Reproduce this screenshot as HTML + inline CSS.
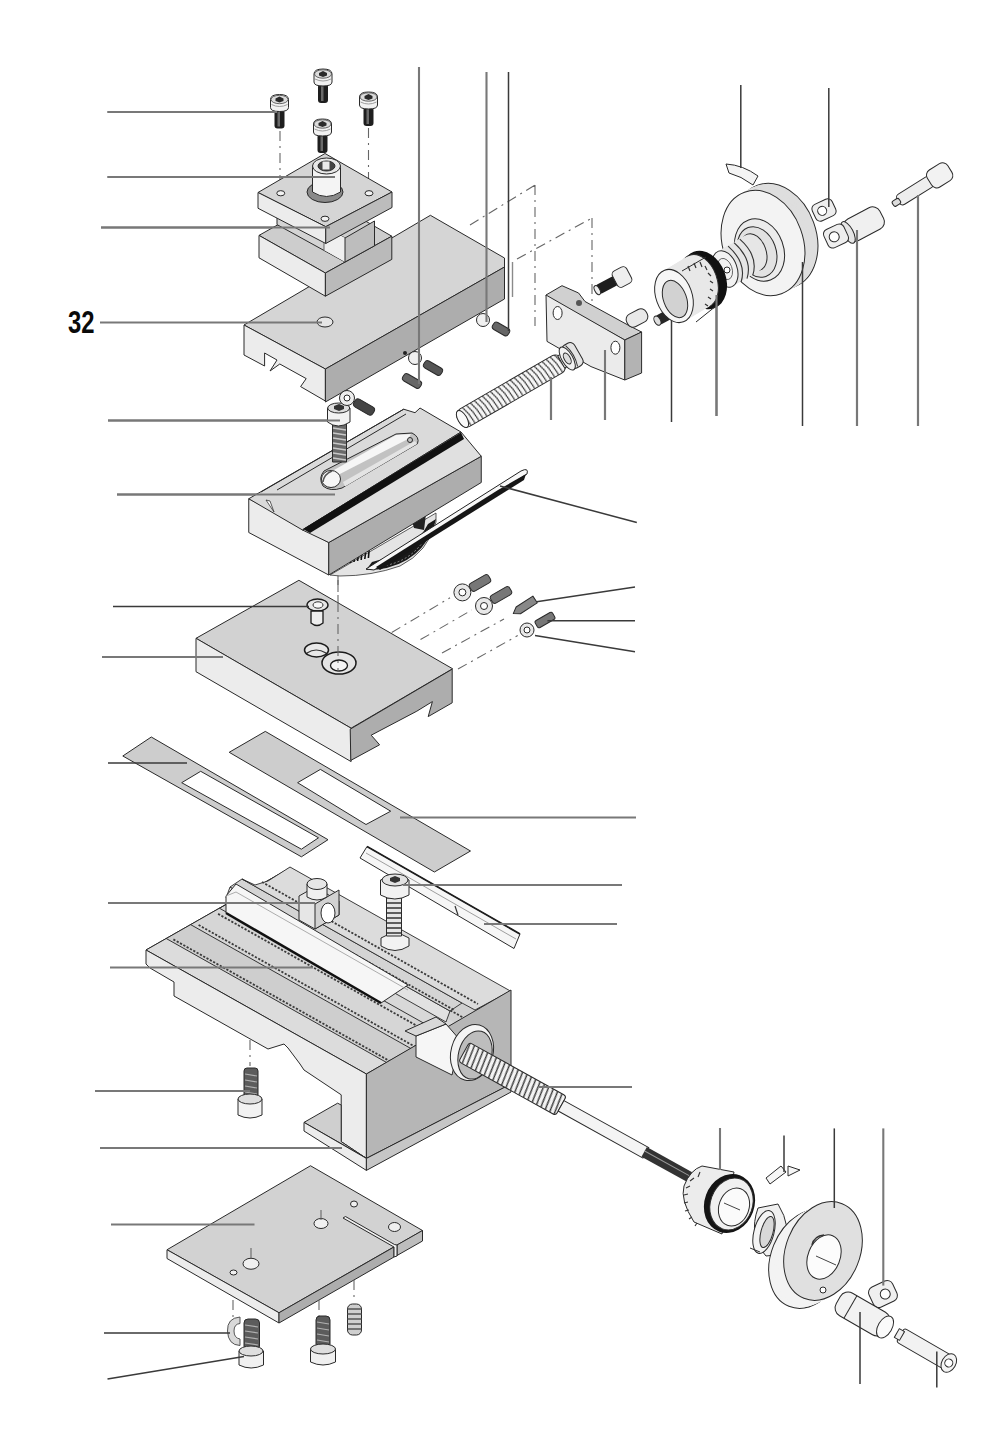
<!DOCTYPE html>
<html><head><meta charset="utf-8">
<style>
html,body{margin:0;padding:0;background:#fff;}
body{width:1000px;height:1444px;overflow:hidden;}
svg{display:block;}
.e{stroke:#2a2a2a;stroke-width:1;stroke-linejoin:round;}
.L{stroke:#787878;stroke-width:2.1;fill:none;}
.Ld{stroke:#3a3a3a;stroke-width:1.5;fill:none;}
.d{stroke:#666;stroke-width:1.1;fill:none;stroke-dasharray:10 5 2 5;}
.t{fill:#d5d5d5;}
.lf{fill:#ececec;}
.rf{fill:#adadad;}
</style></head><body>
<svg width="1000" height="1444" viewBox="0 0 1000 1444">
<defs>
 <g id="cs">
  <rect x="4" y="15" width="10" height="19" rx="3" fill="#1e1e1e"/>
  <rect x="7" y="17" width="2.5" height="15" fill="#6a6a6a"/>
  <path d="M0,5 Q0,0 9,0 Q18,0 18,5 L18,13 Q18,17 9,17 Q0,17 0,13 Z" fill="#f2f2f2" class="e"/>
  <ellipse cx="9" cy="5" rx="8.5" ry="4.2" fill="#dcdcdc" stroke="#444" stroke-width="0.8"/>
  <path d="M5,4 L9,2 L13,4 L13,6.5 L9,8 L5,6.5Z" fill="#2a2a2a"/>
  <path d="M1,10 Q9,14 17,10" stroke="#888" stroke-width="0.8" fill="none"/>
 </g>
 <pattern id="coil" width="4.6" height="20" patternUnits="userSpaceOnUse" x="0" y="-10">
  <rect width="4.6" height="20" fill="#f6f6f6"/>
  <path d="M0.5,0 Q4,10 3.5,20" stroke="#333" stroke-width="1.1" fill="none"/>
 </pattern>
<pattern id="coil2" width="5" height="22" patternUnits="userSpaceOnUse" y="-11">
  <rect width="5" height="22" fill="#f4f4f4"/>
  <path d="M1,0 L4,22" stroke="#333" stroke-width="1.4"/>
 </pattern>
</defs>
<g id="top">
<!-- leaders -->
<path class="L" d="M107.5,112H277 M107.5,177H335 M101,227.5H330"/>
<text x="68" y="332.5" font-family="Liberation Sans" font-weight="bold" font-size="30.5" fill="#0a0a0a" textLength="26.5" lengthAdjust="spacingAndGlyphs">32</text>
<path class="L" d="M551,377V420 M605,350V420 M857,230V426 M918,195V426 M716.5,295V416"/>
<path class="Ld" d="M671.5,300V422"/>
<!-- dash-dot lines -->
<path class="d" d="M280,131V192 M368.5,128V192 M470,225L535,185 M535,185V326 M517,259L592,218 M592,218V342 M325,296V318"/>

<!-- top slide block -->
<polygon class="e t" points="244,325 430.4,215.3 504.5,258 504.5,267 325.4,369"/>
<polygon class="e lf" points="244,325 325.4,369 325.4,401 300.6,386.6 306.2,378.6 279.8,364 270,371 277,360 264.6,353 264.6,366 244,355"/>
<polygon class="e rf" points="325.4,369 504.5,267 504.5,299 325.4,402"/>
<ellipse cx="325" cy="322" rx="8" ry="5" fill="#e6e6e6" class="e"/>
<path class="L" d="M100,322.5H322"/>
<!-- small pins on top slide -->
<g transform="translate(412,381) rotate(30)"><rect x="-10" y="-4" width="20" height="8" rx="3" fill="#666" class="e"/></g>
<g transform="translate(433,368) rotate(30)"><rect x="-10" y="-4" width="20" height="8" rx="3" fill="#555" class="e"/></g>
<circle cx="415" cy="358" r="6.5" fill="#f0f0f0" class="e"/>
<circle cx="405" cy="353" r="2" fill="#222"/>
<g transform="translate(501,329) rotate(30)"><rect x="-9" y="-4" width="18" height="8" rx="3" fill="#666" class="e"/></g>
<circle cx="483" cy="320" r="6.5" fill="#f0f0f0" class="e"/>
<path class="L" d="M419,67V384 M486.5,72V322"/>
<path class="Ld" d="M508.5,72V331"/>
<path d="M512.5,262V297" stroke="#8a8a8a" stroke-width="1.4"/>

<!-- tool post lower block -->
<polygon class="e" fill="#cdcdcd" points="259,235.4 325.4,198 391.8,236.2 325.4,273"/>
<polygon class="e lf" points="259,235.4 325.4,273 325.4,296.2 259,257.8"/>
<polygon class="e" fill="#bababa" points="325.4,273 391.8,236.2 391.8,259.4 325.4,296.2"/>
<!-- neck -->
<polygon class="e" fill="#d4d4d4" points="277,200 345,238 345,262 277,224.6"/>
<polygon fill="#efefef" points="324,226 345,238 345,262 324,250"/>
<path d="M324,226V250" stroke="#444" stroke-width="0.8"/>
<polygon class="e" fill="#bdbdbd" points="345,238 374.5,221 374.5,245.8 345,262"/>
<!-- flange plate -->
<polygon class="e t" points="258,192.5 325,153.5 392,192 325.75,226.7"/>
<polygon class="e lf" points="258,192.5 325.75,226.7 325.75,243.5 258,208.25"/>
<polygon class="e" fill="#bcbcbc" points="325.75,226.7 392,192 392,207.5 325.75,243.5"/>
<ellipse cx="280.75" cy="193.25" rx="4" ry="2.6" fill="#f2f2f2" class="e"/>
<ellipse cx="369" cy="193.25" rx="4" ry="2.6" fill="#f2f2f2" class="e"/>
<ellipse cx="325" cy="218.75" rx="4" ry="2.6" fill="#f2f2f2" class="e"/>
<!-- boss -->
<ellipse cx="325" cy="192" rx="18" ry="10.5" fill="#8a8a8a" class="e"/>
<path class="e" fill="#f4f4f4" d="M312.5,166 L312.5,192 Q326.5,201 340.5,192 L340.5,166 Z"/>
<ellipse cx="326.5" cy="166" rx="14" ry="8" fill="#e8e8e8" class="e"/>
<ellipse cx="326.5" cy="166" rx="8.5" ry="5" fill="#444" class="e"/>
<rect x="322.5" y="161.5" width="7" height="8" fill="#eaeaea"/>
<path class="L" d="M107.5,177H335 M101,227.5H330"/>
<!-- cap screws -->
<use href="#cs" x="270.5" y="94.5"/>
<use href="#cs" x="314" y="69"/>
<use href="#cs" x="359.5" y="92"/>
<use href="#cs" x="313.5" y="119"/>
<path class="L" d="M107.5,112H277"/>

<!-- bracket -->
<polygon class="e" fill="#d0d0d0" points="546,295 562,285.7 578.6,293 585,301.5 629,325.6 641.6,332 624.8,340 547,297"/>
<polygon class="e" fill="#ebebeb" points="546,295 624.8,340 624.8,380 591,366.6 547,341.4"/>
<polygon class="e" fill="#b3b3b3" points="624.8,340 641.6,332 641.6,373 624.8,380"/>
<ellipse cx="557.6" cy="313" rx="4.5" ry="6.5" fill="#fff" class="e"/>
<ellipse cx="615.4" cy="347.7" rx="4.5" ry="6.5" fill="#fff" class="e"/>
<circle cx="579" cy="303" r="3" fill="#555"/>
<!-- upper leadscrew spring -->
<g transform="translate(459,421) rotate(-30)">
 <rect x="0" y="-10" width="120" height="20" rx="7" fill="url(#coil)" class="e"/>
 <ellipse cx="4" cy="0" rx="4.5" ry="9.5" fill="#fafafa" class="e"/>
 <rect x="118" y="-7" width="10" height="14" fill="#e8e8e8" class="e"/>
 <rect x="124" y="-13" width="14" height="26" rx="5" fill="#e4e4e4" class="e"/>
 <path d="M130,-12 Q134,0 130,12" stroke="#333" fill="none"/>
 <ellipse cx="125" cy="0" rx="5.5" ry="13" fill="#f2f2f2" class="e"/>
 <ellipse cx="125" cy="0" rx="3" ry="6" fill="#ddd" class="e"/>
</g>
<path class="L" d="M551,377V420 M605,350V420"/>
<!-- lying cap screw -->
<g transform="translate(622,277) rotate(-28)">
 <rect x="-28" y="-5" width="22" height="10" rx="3" fill="#1e1e1e"/>
 <ellipse cx="-28" cy="0" rx="2.5" ry="5" fill="#eee" class="e"/>
 <rect x="-8" y="-9" width="16" height="18" rx="4" fill="#eee" class="e"/>
</g>
<!-- small pin + grub -->
<g transform="translate(637,318) rotate(-28)"><rect x="-11" y="-7" width="22" height="14" rx="6" fill="#e8e8e8" class="e"/></g>
<g transform="translate(668,315) rotate(-28)"><rect x="-13" y="-5" width="26" height="10" rx="4" fill="#262626"/><ellipse cx="-12" cy="0" rx="3" ry="5" fill="#ddd" class="e"/></g>

<!-- handwheel upper -->
<ellipse cx="776" cy="236" rx="40" ry="54" transform="rotate(-20 776 236)" fill="#dedede" class="e"/>
<ellipse cx="774.7" cy="236.7" rx="40" ry="54" transform="rotate(-20 774.7 236.7)" fill="#dedede"/>
<ellipse cx="773.4" cy="237.4" rx="40" ry="54" transform="rotate(-20 773.4 237.4)" fill="#dedede"/>
<ellipse cx="772.1" cy="238.1" rx="40" ry="54" transform="rotate(-20 772.1 238.1)" fill="#dedede"/>
<ellipse cx="770.8" cy="238.8" rx="40" ry="54" transform="rotate(-20 770.8 238.8)" fill="#dedede"/>
<ellipse cx="769.5" cy="239.5" rx="40" ry="54" transform="rotate(-20 769.5 239.5)" fill="#dedede"/>
<ellipse cx="768.2" cy="240.2" rx="40" ry="54" transform="rotate(-20 768.2 240.2)" fill="#dedede"/>
<ellipse cx="766.9" cy="240.9" rx="40" ry="54" transform="rotate(-20 766.9 240.9)" fill="#dedede"/>
<ellipse cx="765.6" cy="241.6" rx="40" ry="54" transform="rotate(-20 765.6 241.6)" fill="#dedede"/>
<ellipse cx="764.3" cy="242.3" rx="40" ry="54" transform="rotate(-20 764.3 242.3)" fill="#dedede"/>
<ellipse cx="763" cy="243" rx="40" ry="54" transform="rotate(-20 763 243)" fill="#f3f3f3" class="e"/>
<ellipse cx="759.5" cy="250" rx="24" ry="32" transform="rotate(-20 759.5 250)" fill="#ececec" class="e"/>
<ellipse cx="757" cy="252" rx="19" ry="26" transform="rotate(-20 757 252)" fill="#e2e2e2" class="e"/>
<!-- hub -->
<ellipse cx="754" cy="252" rx="12" ry="19" transform="rotate(-20 754 252)" fill="#e6e6e6" class="e"/>
<ellipse cx="751.1" cy="253.7" rx="12" ry="19" transform="rotate(-20 751.1 253.7)" fill="#e6e6e6"/>
<ellipse cx="748.2" cy="255.4" rx="12" ry="19" transform="rotate(-20 748.2 255.4)" fill="#e6e6e6"/>
<ellipse cx="745.3" cy="257.1" rx="12" ry="19" transform="rotate(-20 745.3 257.1)" fill="#e6e6e6"/>
<ellipse cx="742.4" cy="258.8" rx="12" ry="19" transform="rotate(-20 742.4 258.8)" fill="#e6e6e6"/>
<ellipse cx="739.5" cy="260.5" rx="12" ry="19" transform="rotate(-20 739.5 260.5)" fill="#e6e6e6"/>
<ellipse cx="736.6" cy="262.2" rx="12" ry="19" transform="rotate(-20 736.6 262.2)" fill="#e6e6e6"/>
<ellipse cx="733.7" cy="263.9" rx="12" ry="19" transform="rotate(-20 733.7 263.9)" fill="#e6e6e6"/>
<ellipse cx="730.8" cy="265.6" rx="12" ry="19" transform="rotate(-20 730.8 265.6)" fill="#e6e6e6"/>
<ellipse cx="727.9" cy="267.3" rx="12" ry="19" transform="rotate(-20 727.9 267.3)" fill="#e6e6e6"/>
<ellipse cx="725" cy="269" rx="12" ry="19" transform="rotate(-20 725 269)" fill="#f2f2f2" class="e"/>
<path d="M739.8,239.2 Q758.8,256.2 752.8,275.2" stroke="#333" stroke-width="1.1" fill="none"/>
<path d="M734.0,242.6 Q753.0,259.6 747.0,278.6" stroke="#333" stroke-width="1.1" fill="none"/>
<path d="M728.1,246.1 Q747.1,263.1 741.1,282.1" stroke="#333" stroke-width="1.1" fill="none"/>
<ellipse cx="725" cy="269" rx="7" ry="11" transform="rotate(-20 725 269)" fill="none" stroke="#555" stroke-width="0.8"/>
<circle cx="727" cy="270" r="3" fill="#fff" class="e"/>
<path class="Ld" d="M802.5,262V426"/>
<!-- dial upper -->
<ellipse cx="704" cy="280" rx="22" ry="30" transform="rotate(-20 704 280)" fill="#111"/>
<ellipse cx="699" cy="281" rx="18" ry="27.5" transform="rotate(-20 699 281)" fill="#e8e8e8" class="e"/>
<ellipse cx="696.5" cy="282.5" rx="18" ry="27.5" transform="rotate(-20 696.5 282.5)" fill="#e8e8e8"/>
<ellipse cx="694.0" cy="284.0" rx="18" ry="27.5" transform="rotate(-20 694.0 284.0)" fill="#e8e8e8"/>
<ellipse cx="691.5" cy="285.5" rx="18" ry="27.5" transform="rotate(-20 691.5 285.5)" fill="#e8e8e8"/>
<ellipse cx="689.0" cy="287.0" rx="18" ry="27.5" transform="rotate(-20 689.0 287.0)" fill="#e8e8e8"/>
<ellipse cx="686.5" cy="288.5" rx="18" ry="27.5" transform="rotate(-20 686.5 288.5)" fill="#e8e8e8"/>
<ellipse cx="684.0" cy="290.0" rx="18" ry="27.5" transform="rotate(-20 684.0 290.0)" fill="#e8e8e8"/>
<ellipse cx="681.5" cy="291.5" rx="18" ry="27.5" transform="rotate(-20 681.5 291.5)" fill="#e8e8e8"/>
<ellipse cx="679.0" cy="293.0" rx="18" ry="27.5" transform="rotate(-20 679.0 293.0)" fill="#e8e8e8"/>
<ellipse cx="676.5" cy="294.5" rx="18" ry="27.5" transform="rotate(-20 676.5 294.5)" fill="#e8e8e8"/>
<path d="M682,271 L706,257 M696,322 L716,306" stroke="#2a2a2a" stroke-width="1" fill="none"/>
<path stroke="#333" stroke-width="1.2" d="M688,266l2,5 M694,263l2,5 M700,262l2,5 M705,266l2,4 M708,273l3,3 M710,281l3,2 M710,289l3,2 M708,297l3,2 M705,304l3,2"/>
<ellipse cx="674" cy="296" rx="18" ry="27.5" transform="rotate(-20 674 296)" fill="#f6f6f6" class="e"/>
<ellipse cx="675" cy="299" rx="11.5" ry="19.5" transform="rotate(-20 675 299)" fill="#d2d2d2" class="e"/>
<path class="L" d="M716.5,295V416"/>
<!-- arc marker top -->
<path class="e" fill="#f4f4f4" d="M726,164 Q743,165 758,176 L753,185 Q741,176 729,173 Z"/>
<path class="Ld" d="M740.8,85V168"/>
<!-- nuts, sleeve, pin -->
<g transform="translate(824,210) rotate(-25)"><rect x="-11" y="-9" width="22" height="18" rx="5" fill="#eee" class="e"/><circle cx="-2" cy="0" r="4.5" fill="#fff" class="e"/></g>
<g transform="translate(864,224) rotate(-28)"><rect x="-20" y="-12" width="40" height="24" rx="8" fill="#f0f0f0" class="e"/><ellipse cx="-18" cy="0" rx="5" ry="12" fill="#e6e6e6" class="e"/></g>
<g transform="translate(836,236) rotate(-25)"><rect x="-11" y="-10" width="22" height="20" rx="5" fill="#eee" class="e"/><circle cx="-2" cy="0" r="5" fill="#fff" class="e"/></g>
<g transform="translate(921,187) rotate(-32)">
 <rect x="-27" y="-6" width="40" height="12" rx="4" fill="#eee" class="e"/>
 <rect x="10" y="-10" width="24" height="20" rx="6" fill="#f2f2f2" class="e"/>
 <rect x="-33" y="-3" width="8" height="6" rx="2" fill="#ddd" class="e"/>
</g>
<path class="Ld" d="M828.8,88V207"/>
<path class="L" d="M857,230V426 M918,195V426"/>
</g>
<g id="mid">
<!-- leaders -->
<path class="L" d="M108,420.5H340 M117,494.5H335"/>
<path class="d" d="M338,575V670 M317,628V648"/>
<!-- swivel ring under compound slide -->
<path d="M330,575 L436,513 L436,522 Q428,552 400,566 Q372,576 340,576Z" fill="#e4e4e4" stroke="#333" stroke-width="0.8"/>
<path d="M366,570 Q414,570 433,530 L436,519 L428,524 Q414,552 372,562Z" fill="#1a1a1a"/>
<path d="M382,566 Q410,562 424,540" stroke="#aaa" stroke-width="0.8" stroke-dasharray="2 2" fill="none"/>
<path stroke="#111" stroke-width="1.6" d="M336.0,567.0l0.8,-6 M339.6,566.0l0.8,-9 M343.2,565.0l0.8,-6 M346.8,564.0l0.8,-9 M350.4,563.0l0.8,-6 M354.0,562.0l0.8,-9 M357.6,561.0l0.8,-6 M361.2,560.0l0.8,-9 M364.8,559.0l0.8,-6 M368.4,558.0l0.8,-9"/>
<path d="M412,521 L426,514 L424,530 L414,528Z" fill="#222"/>
<!-- compound slide -->
<polygon class="e lf" points="248.75,498.75 265,507 270,500 274,512 302.5,528 328.75,542.5 328.75,575 248.75,532.5"/>
<polygon class="e rf" points="328.75,542.5 481.25,456.25 481.25,482.5 328.75,575"/>
<!-- top faces -->
<polygon class="e" fill="#dadada" points="248.75,498.75 403.7,409.2 415,412.7 420,408 461,432 307,527 302.5,530"/>
<polygon class="e" fill="#e0e0e0" points="302.5,530 461,432 481.25,456.25 328.75,542.5"/>
<path d="M303,529 L461,432.5 L464,439 L310,533Z" fill="#111"/>
<path stroke="#2a2a2a" stroke-width="1" fill="none" d="M261,492 L403.7,409.2 M277,490 L406,414"/>
<path d="M266,500 L274,512 L270,501Z" fill="#fff" stroke="#333" stroke-width="0.8"/>
<!-- slot -->
<path class="e" fill="#c2c2c2" d="M324,471 Q318,478 323,486 Q330,492 342,488 L417.5,443.7 Q420,437 412,433 L396,434 Z"/>
<path fill="#f6f6f6" d="M334,470 L396,435 L411,434 L408,439 L336,476 Z"/>
<path fill="#e4e4e4" d="M345,486.5 L417,444 L415,441 L343,482Z"/>
<ellipse cx="331" cy="479" rx="9.5" ry="8.5" fill="#f6f6f6" class="e"/>
<path d="M323,482 Q324,474 332,471" stroke="#555" stroke-width="1.5" fill="none"/>
<circle cx="410" cy="440" r="2.5" fill="none" class="e"/>
<!-- threaded screw -->
<rect x="332.5" y="424" width="14" height="38" fill="#6a6a6a" class="e"/>
<path stroke="#c8c8c8" stroke-width="1.3" d="M333,428l13,2 M333,433l13,2 M333,438l13,2 M333,443l13,2 M333,448l13,2 M333,453l13,2 M333,458l13,2"/>
<path d="M327.5,408 Q338,402 350,408 L350,422 Q338,430 327.5,422Z" fill="#f2f2f2" class="e"/>
<ellipse cx="338.7" cy="408" rx="11" ry="5" fill="#ddd" class="e"/>
<path d="M334,406 L339,404 L344,406 L344,409 L339,411 L334,409Z" fill="#333"/>
<circle cx="347" cy="398" r="7.5" fill="#eee" class="e"/>
<circle cx="347" cy="398" r="3" fill="#fff" class="e"/>
<g transform="translate(364,407) rotate(30)"><rect x="-11" y="-4.5" width="22" height="9" rx="3.5" fill="#444" class="e"/></g>
<path class="L" d="M108,420.5H340 M117,494.5H335"/>
<!-- gib strip -->
<path d="M366,569 L521,471 Q529,467 527,474 L374,570 Z" fill="#f8f8f8" stroke="#222" stroke-width="1"/>
<path d="M376,567 L498,490 L526,474 L524,480 L380,570Z" fill="#161616"/>
<path class="Ld" d="M500,486 L636.8,522.5"/>
<!-- swivel plate -->
<polygon class="e" fill="#d2d2d2" points="196,638.3 298.9,580.3 452.6,668.75 351.1,728.2"/>
<polygon class="e lf" points="196,638.3 351.1,728.2 351.1,761.6 196,671.7"/>
<polygon class="e rf" points="350.2,729.2 452.2,669.2 452.2,702.8 428.2,716.6 432.4,701.6 416.8,711.2 371.2,735.2 379.6,744.8 350.8,760.4"/>
<ellipse cx="317.5" cy="605" rx="10.5" ry="6" fill="#e6e6e6" stroke="#1a1a1a" stroke-width="1.4"/>
<ellipse cx="318" cy="605" rx="5" ry="3.2" fill="#f8f8f8" stroke="#333" stroke-width="1"/>
<path fill="#eee" stroke="#1a1a1a" stroke-width="1.3" d="M311,611 L311,623 Q317,628 323,623 L323,611 Z"/>
<ellipse cx="316.5" cy="650" rx="12" ry="7" fill="#e8e8e8" stroke="#1a1a1a" stroke-width="1.5"/>
<path d="M307,653 Q316,647 326,653" stroke="#333" stroke-width="1.2" fill="none"/>
<ellipse cx="339" cy="663" rx="17" ry="11" fill="#e4e4e4" stroke="#1a1a1a" stroke-width="1.5"/>
<ellipse cx="339" cy="665.5" rx="8.5" ry="5.5" fill="#f4f4f4" stroke="#1a1a1a" stroke-width="1.3"/>
<path class="d" d="M338,580V672"/>
<path class="Ld" d="M113,606.4H309"/>
<path class="L" d="M102,657H223"/>
<!-- dashed leader lines to small screws -->
<path class="d" d="M391.7,632.5L450,597.8 M420.5,639.6L471.8,610 M442,653L504,619 M458,669L517.7,635.6"/>
<!-- small screws -->
<circle cx="462.4" cy="592.4" r="8.5" fill="#e8e8e8" class="e"/>
<circle cx="462.4" cy="592.4" r="3.5" fill="#fff" class="e"/>
<g transform="translate(480,583) rotate(-30)"><rect x="-11" y="-4.5" width="22" height="9" rx="3" fill="#777" class="e"/></g>
<circle cx="484" cy="606" r="8.5" fill="#e8e8e8" class="e"/>
<circle cx="484" cy="606" r="3.5" fill="#fff" class="e"/>
<g transform="translate(501,595) rotate(-30)"><rect x="-11" y="-4.5" width="22" height="9" rx="3" fill="#777" class="e"/></g>
<g transform="translate(525,606) rotate(-33)"><path d="M-14,0 L-8,-4 L12,-4 L12,4 L-8,4Z" fill="#888" class="e"/></g>
<circle cx="527" cy="630" r="7" fill="#e8e8e8" class="e"/>
<circle cx="527" cy="630" r="3" fill="#fff" class="e"/>
<g transform="translate(545,620) rotate(-30)"><rect x="-10" y="-4" width="20" height="8" rx="2" fill="#777" class="e"/></g>
<path class="Ld" d="M536.6,601.8L635,587 M547.4,620.75H635 M535,635.6L635,651.8"/>
<!-- gibs -->
<polygon class="e" fill="#cdcdcd" points="122.8,756 151.3,737 328,839.7 301.4,856.8"/>
<polygon class="e" fill="#fff" points="181.7,782.7 200.7,771.3 318.5,837.8 301.4,849.2"/>
<path class="Ld" d="M108,763H187"/>
<polygon class="e" fill="#cdcdcd" points="229.2,752.3 265.3,731.4 470.5,851 434.4,872"/>
<polygon class="e" fill="#fff" points="297.6,782.7 320.4,769.4 390.7,811.2 366,824.5"/>
<path class="L" d="M400,817.5H636"/>
</g>
<g id="low">
<!-- rod / gib bar -->
<polygon fill="#f6f6f6" stroke="#2a2a2a" stroke-width="1" points="360,858 367,846.5 520,934 514,948.5"/>
<path d="M367,846.5 L520,934" stroke="#1e1e1e" stroke-width="1.8" fill="none"/>
<path d="M366,853 L516,939" stroke="#888" stroke-width="0.8" fill="none"/>
<path d="M455,906 L458,915" stroke="#333" stroke-width="1.2" fill="none"/>
<!-- cross slide base -->
<polygon class="e" fill="#d8d8d8" points="146,950 290,868 510.4,992 366.4,1074"/>
<polygon fill="#dcdcdc" points="146.0,950.0 166.2,938.5 386.6,1062.5 366.4,1074.0"/>
<polygon fill="#cecece" points="166.2,938.5 190.6,924.6 411.0,1048.6 386.6,1062.5"/>
<polygon fill="#d6d6d6" points="190.6,924.6 219.4,908.2 439.8,1032.2 411.0,1048.6"/>
<polygon fill="#d0d0d0" points="235.3,899.2 259.8,885.2 480.2,1009.2 455.7,1023.2"/>
<polygon fill="#dadada" points="259.8,885.2 278.5,874.6 498.9,998.6 480.2,1009.2"/>
<path stroke="#333" stroke-width="1" d="M166.2,938.5L386.6,1062.5 M190.6,924.6L411.0,1048.6 M219.4,908.2L439.8,1032.2 M259.8,885.2L480.2,1009.2 M278.5,874.6L498.9,998.6"/>
<path stroke="#3a3a3a" stroke-width="1.8" stroke-dasharray="2.2 1.6" d="M173.4,939.4L389.4,1060.9 M198.6,925.0L414.6,1046.5 M218.1,913.9L434.1,1035.5 M248.3,896.7L464.3,1018.2 M268.5,885.2L484.5,1006.8 M287.2,874.6L503.2,996.1"/>
<polygon class="e" fill="#d8d8d8" points="146,950 290,868 510.4,992 366.4,1074" fill-opacity="0"/>
<!-- raised back rail -->
<polygon fill="#e2e2e2" stroke="#2a2a2a" stroke-width="0.9" points="226,898 230,887 450,1011 446,1022"/>
<polygon fill="#d4d4d4" stroke="#2a2a2a" stroke-width="0.9" points="230,887 242,879 462,1003 450,1011"/>
<polygon fill="#dcdcdc" stroke="#2a2a2a" stroke-width="0.9" points="242,879 255,885 268,881 290,867 510.4,991 475,1010 462,1003"/>
<path stroke="#3a3a3a" stroke-width="1.8" stroke-dasharray="2.2 1.6" d="M236,888L454,1010 M262,882L478,1004"/>
<!-- white raised gib bar -->
<polygon fill="#f6f6f6" stroke="#2a2a2a" stroke-width="1" points="226,913 226,896 236,884 408,985 381,1003"/>
<path d="M226,896 L236,892 L408,990" stroke="#999" stroke-width="0.8" fill="none"/>
<path d="M226,913 L381,1003" stroke="#111" stroke-width="2.6" fill="none"/>
<!-- block with cross hole -->
<polygon class="e" fill="#e6e6e6" points="299,896 315,887 339,901 339,915 315,929 299,920"/>
<polygon class="e" fill="#d2d2d2" points="315,904 339,890 339,915 315,929"/>
<ellipse cx="328" cy="913" rx="7" ry="10" fill="#fff" class="e"/>
<path class="e" fill="#efefef" d="M307,884 L307,897 Q317,903 327,897 L327,884Z"/>
<ellipse cx="317" cy="884" rx="10" ry="5.5" fill="#e6e6e6" class="e"/>
<!-- side faces -->
<polygon class="e lf" points="146,950 366.4,1074 366.4,1158.4 341.2,1141.6 341.2,1094.8 304,1070 300,1064 288,1048 284,1044 268,1049 174,996 174,982 150,968 146,964"/>
<polygon class="e" fill="#cfcfcf" points="304,1122.4 337.6,1103.2 341.2,1105 341.2,1141.6 366.4,1158.4 340,1143"/>
<polygon class="e lf" points="304,1122.4 366.4,1158.4 366.4,1170.4 304,1131"/>
<polygon class="e" fill="#b6b6b6" points="366.4,1074 511,990 511,1084 366.4,1158.4"/>
<polygon class="e" fill="#c6c6c6" points="366.4,1158.4 511,1084 511,1092 366.4,1170.4"/>
<!-- leadscrew boss -->
<polygon fill="#f6f6f6" stroke="#2a2a2a" stroke-width="1" points="416,1036 446,1024 460,1040 452,1075 416,1057"/>
<polygon fill="#d8d8d8" stroke="#2a2a2a" stroke-width="1" points="405,1031 436,1017 446,1024 416,1036"/>
<ellipse cx="472" cy="1052.5" rx="21" ry="28.5" transform="rotate(15 472 1052.5)" fill="#f4f4f4" class="e"/>
<ellipse cx="475" cy="1055" rx="16.5" ry="24.5" transform="rotate(15 475 1055)" fill="#bdbdbd" class="e"/>
<!-- leadscrew -->
<g transform="translate(464,1052) rotate(29)">
 <rect x="0" y="-11" width="111" height="22" rx="3" fill="url(#coil2)" class="e"/>
 <rect x="111" y="-6" width="97" height="12" fill="#f4f4f4" class="e"/>
 <rect x="206" y="-5.5" width="56" height="11" fill="#333"/>
 <path stroke="#999" stroke-width="1" d="M206,-1H262"/>
</g>
<path class="L" d="M539,1087H632"/>
<!-- lower cap screw -->
<rect x="244" y="1068" width="14" height="30" rx="3" fill="#5c5c5c" class="e"/>
<path stroke="#b0b0b0" stroke-width="1.2" d="M245,1074l12,2 M245,1080l12,2 M245,1086l12,2 M245,1092l12,2"/>
<path class="e" fill="#f2f2f2" d="M238,1099 Q250,1093 262,1099 L262,1115 Q250,1121 238,1115 Z"/>
<ellipse cx="250" cy="1099" rx="12" ry="5" fill="#dedede" class="e"/>
<path class="d" d="M250,1040V1066"/>
<path class="L" d="M95,1091H250 M108,903H315 M110,967.5H313 M100,1148H342"/>
<!-- cap screw on top -->
<path class="e" fill="#f2f2f2" d="M381,938 Q395,929 409,938 L409,946 Q395,955 381,946Z"/>
<rect x="386.5" y="898" width="15" height="38" fill="#e6e6e6" class="e"/>
<path stroke="#333" stroke-width="1.3" d="M386.5,903h15 M386.5,908h15 M386.5,913h15 M386.5,918h15 M386.5,923h15 M386.5,928h15 M386.5,933h15"/>
<path class="e" fill="#f2f2f2" d="M380.5,880 Q395,872 409,880 L409,895 Q395,903 380.5,895Z"/>
<ellipse cx="395" cy="880" rx="13" ry="6" fill="#e2e2e2" class="e"/>
<path d="M390,878 L395,876 L400,878 L400,881 L395,883 L390,881Z" fill="#333"/>
<path class="L" d="M403,885H622 M484,924H617"/>

<!-- bottom plate -->
<polygon class="e" fill="#d2d2d2" points="167,1249.75 310.5,1165.75 422.5,1230.5 279,1312.75"/>
<polygon class="e lf" points="167,1249.75 279,1312.75 279,1323 167,1258.5"/>
<polygon class="e rf" points="279,1312.75 394,1247 394,1257 279,1323"/>
<polygon class="e" fill="#bdbdbd" points="397,1245 422.5,1230.5 422.5,1241 397,1255.5"/>
<path class="e" fill="#efefef" d="M345.5,1216.5 L394.5,1244.5 L397,1245 L397,1256 L394,1257 L394,1247 L343,1218 Z"/>
<ellipse cx="321" cy="1223.5" rx="7" ry="5" fill="#f0f0f0" class="e"/>
<ellipse cx="394.5" cy="1227" rx="6" ry="4.5" fill="#f0f0f0" class="e"/>
<ellipse cx="354" cy="1204" rx="3.5" ry="3" fill="#f0f0f0" class="e"/>
<ellipse cx="251" cy="1263.75" rx="8" ry="5.5" fill="#f0f0f0" class="e"/>
<ellipse cx="233.5" cy="1272.5" rx="3.5" ry="2.5" fill="#f0f0f0" class="e"/>
<path class="d" d="M321,1210V1223 M251,1248V1262 M233,1300V1318 M319,1300V1316 M354,1280V1300"/>
<path class="L" d="M111,1224.5H254.5"/>
<!-- small parts below plate -->
<path fill="#d8d8d8" stroke="#444" stroke-width="0.9" d="M240,1317 Q227,1318 227.5,1331 Q228,1345 240,1345.5 L240,1339 Q234,1338 234,1331 Q234,1324 240,1323.5Z"/>
<rect x="244" y="1319" width="15.5" height="31" rx="4" fill="#5c5c5c" class="e"/>
<path stroke="#b0b0b0" stroke-width="1.2" d="M245,1325l13,2 M245,1331l13,2 M245,1337l13,2 M245,1343l13,2"/>
<path class="e" fill="#f0f0f0" d="M239,1351 Q251,1345 263.5,1351 L263.5,1365 Q251,1371 239,1365Z"/>
<ellipse cx="251" cy="1351" rx="12" ry="5" fill="#dedede" class="e"/>
<rect x="316" y="1316" width="14" height="32" rx="4" fill="#5c5c5c" class="e"/>
<path stroke="#b0b0b0" stroke-width="1.2" d="M317,1322l12,2 M317,1328l12,2 M317,1334l12,2 M317,1340l12,2"/>
<path class="e" fill="#f0f0f0" d="M310.5,1349 Q323,1343 335.5,1349 L335.5,1362 Q323,1368 310.5,1362Z"/>
<ellipse cx="323" cy="1349" rx="12.5" ry="5" fill="#dedede" class="e"/>
<rect x="347.5" y="1304" width="14" height="31" rx="5" fill="#cfcfcf" class="e"/>
<path stroke="#555" stroke-width="1.3" d="M347.5,1309h14 M347.5,1314h14 M347.5,1319h14 M347.5,1324h14 M347.5,1329h14"/>
<path class="Ld" d="M104,1333H230 M107.5,1379L244,1356.5"/>

<!-- dial lower -->
<path class="e" fill="#ececec" d="M702,1166 L734,1172 L722,1234 L694,1222 Q680,1200 684,1186 Q690,1170 702,1166Z"/>
<path stroke="#333" stroke-width="1.1" d="M700,1172l-2,5 M694,1178l-4,3 M690,1186l-4,2 M688,1194l-4,1 M688,1202l-4,1 M689,1210l-4,1 M692,1217l-3,2 M697,1223l-2,3"/>
<ellipse cx="729.5" cy="1203.5" rx="25" ry="30" transform="rotate(20 729.5 1203.5)" fill="#141414"/>
<ellipse cx="731.5" cy="1204" rx="21" ry="26.5" transform="rotate(20 731.5 1204)" fill="#f0f0f0" class="e"/>
<ellipse cx="734" cy="1207" rx="15" ry="19.5" transform="rotate(20 734 1207)" fill="#fbfbfb" class="e"/>
<path d="M724,1203 L740,1210" stroke="#444" stroke-width="1" fill="none"/>
<path class="L" d="M720,1128V1170"/>
<!-- arrow marker lower -->
<path class="e" fill="#f6f6f6" d="M766,1178 L781,1166 L786,1172 L770,1184Z"/>
<path class="e" fill="#f6f6f6" d="M788,1166 L800,1170 L788,1176Z"/>
<path class="Ld" d="M784,1135.6V1172"/>
<!-- hub lower -->
<path class="e" fill="#f0f0f0" d="M758,1208 L778,1204 Q792,1226 786,1254 L766,1256 Q748,1236 758,1208Z"/>
<ellipse cx="764" cy="1232" rx="10" ry="22" transform="rotate(15 764 1232)" fill="#f4f4f4" class="e"/>
<ellipse cx="767" cy="1232" rx="6" ry="16" transform="rotate(15 767 1232)" fill="#d8d8d8" class="e"/>
<path d="M750,1248 L760,1252" stroke="#333" fill="none"/>
<!-- handwheel lower -->
<ellipse cx="808" cy="1259" rx="37" ry="51" transform="rotate(22 808 1259)" fill="#f3f3f3" class="e"/>
<ellipse cx="809.9" cy="1258.0" rx="37" ry="51" transform="rotate(22 809.9 1258.0)" fill="#f3f3f3"/>
<ellipse cx="811.8" cy="1257.0" rx="37" ry="51" transform="rotate(22 811.8 1257.0)" fill="#f3f3f3"/>
<ellipse cx="813.6" cy="1256.0" rx="37" ry="51" transform="rotate(22 813.6 1256.0)" fill="#f3f3f3"/>
<ellipse cx="815.5" cy="1255.0" rx="37" ry="51" transform="rotate(22 815.5 1255.0)" fill="#f3f3f3"/>
<ellipse cx="817.4" cy="1254.0" rx="37" ry="51" transform="rotate(22 817.4 1254.0)" fill="#f3f3f3"/>
<ellipse cx="819.2" cy="1253.0" rx="37" ry="51" transform="rotate(22 819.2 1253.0)" fill="#f3f3f3"/>
<ellipse cx="821.1" cy="1252.0" rx="37" ry="51" transform="rotate(22 821.1 1252.0)" fill="#f3f3f3"/>
<ellipse cx="823" cy="1251" rx="37" ry="51" transform="rotate(22 823 1251)" fill="#e0e0e0" class="e"/>
<ellipse cx="824" cy="1257" rx="16" ry="23" transform="rotate(22 824 1257)" fill="#fcfcfc" class="e"/>
<path d="M812,1245 Q814,1236 824,1235" stroke="#333" stroke-width="1.5" fill="none"/>
<path d="M816,1256 L836,1265" stroke="#444" stroke-width="1" fill="none"/>
<circle cx="823" cy="1290" r="3" fill="#fff" class="e"/>
<path class="Ld" d="M834.3,1128.4V1208"/>
<!-- nut, sleeve, pin lower -->
<g transform="translate(883,1294) rotate(-25)"><rect x="-13" y="-11" width="26" height="22" rx="6" fill="#f0f0f0" class="e"/><circle cx="2" cy="1" r="5" fill="#fff" class="e"/></g>
<path class="L" d="M883.3,1128.4V1285.6"/>
<g transform="translate(866,1316) rotate(30)"><rect x="-32" y="-13" width="56" height="26" rx="9" fill="#f2f2f2" class="e"/><ellipse cx="22" cy="0" rx="7" ry="12" fill="#fafafa" class="e"/><path class="e" d="M-18,-13 V13" fill="none"/></g>
<g transform="translate(928,1351) rotate(30)"><rect x="-32" y="-8" width="56" height="16" rx="3" fill="#f2f2f2" class="e"/><rect x="-36" y="-5" width="6" height="10" fill="#eee" class="e"/><ellipse cx="24" cy="0" rx="7" ry="10" fill="#f4f4f4" class="e"/><circle cx="24" cy="0" r="4" fill="#fff" class="e"/></g>
<path class="Ld" d="M860,1312V1384 M936.8,1351.6V1387.6"/>
</g>

</svg>
</body></html>
